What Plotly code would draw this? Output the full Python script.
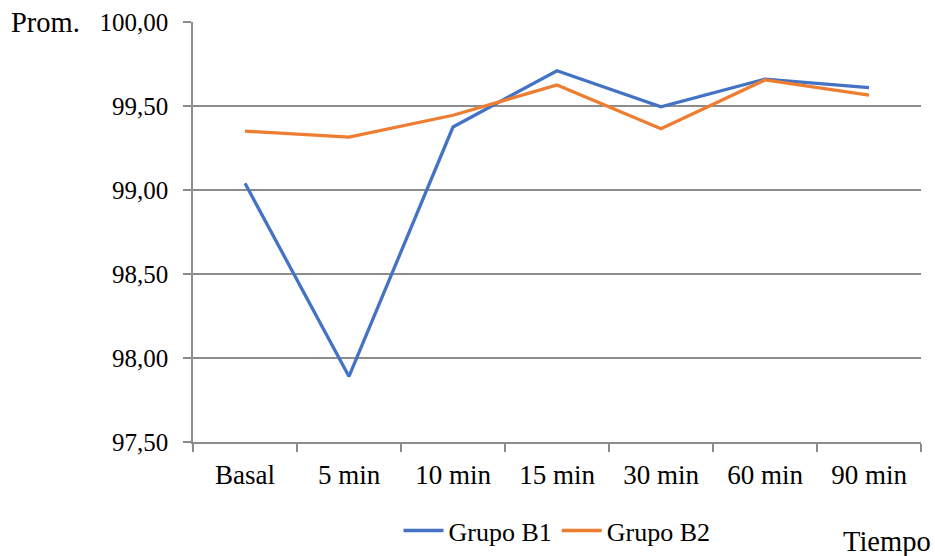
import plotly.graph_objects as go

# Tiempo de medición y promedios por grupo
tiempos = ["Basal", "5 min", "10 min", "15 min", "30 min", "60 min", "90 min"]
grupo_b1 = [99.04, 97.89, 99.375, 99.71, 99.495, 99.66, 99.61]
grupo_b2 = [99.35, 99.315, 99.445, 99.625, 99.365, 99.655, 99.565]

font_family = "Liberation Serif, Times New Roman, serif"
grid_color = "#8c8c8c"

fig = go.Figure()
fig.add_trace(go.Scatter(x=tiempos, y=grupo_b1, mode="lines", name="Grupo B1",
                         line=dict(color="#4472C4", width=3.3)))
fig.add_trace(go.Scatter(x=tiempos, y=grupo_b2, mode="lines", name="Grupo B2",
                         line=dict(color="#ED7D31", width=3.3)))

fig.update_layout(
    width=935, height=556,
    margin=dict(l=193, r=14, t=22, b=114, autoexpand=False),
    paper_bgcolor="white", plot_bgcolor="white",
    separators=",.",
    font=dict(family=font_family, size=27, color="#000000"),
    showlegend=True,
    legend=dict(orientation="h", x=0.5, xanchor="center", y=-0.155, yanchor="top",
                font=dict(size=26), itemwidth=40, tracegroupgap=0),
    xaxis=dict(
        type="category", showgrid=False, showline=True, linecolor=grid_color, linewidth=1.5,
        ticks="outside", tickson="boundaries", ticklen=8, tickcolor=grid_color, tickwidth=1.5,
        range=[-0.5, 6.5], fixedrange=True, automargin=False, ticklabelstandoff=8,
        tickfont=dict(size=27),
    ),
    yaxis=dict(
        range=[97.5, 100.0], dtick=0.5, tick0=97.5, tickformat=".2f",
        showgrid=True, gridcolor=grid_color, gridwidth=1.5,
        showline=True, linecolor=grid_color, linewidth=1.5,
        ticks="outside", ticklen=8, tickcolor=grid_color, tickwidth=1.5,
        zeroline=False, fixedrange=True, ticklabelstandoff=10, automargin=False,
        tickfont=dict(size=25),
    ),
    annotations=[
        dict(text="Prom.", xref="paper", yref="paper", x=-0.2525, y=1.0, xanchor="left",
             yanchor="middle", showarrow=False, font=dict(size=28.5)),
        dict(text="Tiempo", xref="paper", yref="paper", x=1.016, y=-0.236, xanchor="right",
             yanchor="middle", showarrow=False, font=dict(size=28.5)),
    ],
)

fig.write_html("out.html")
